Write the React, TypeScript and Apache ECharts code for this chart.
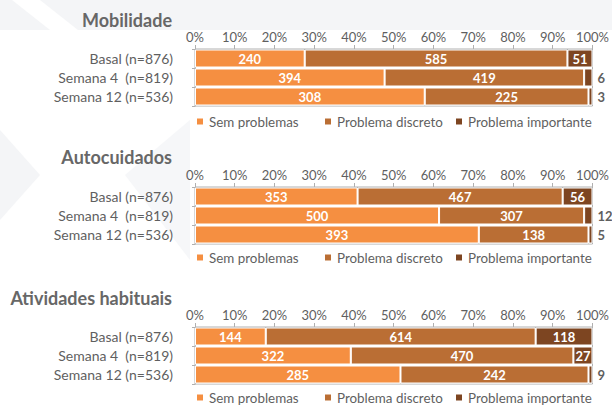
import React, { useEffect, useRef } from "react";
import * as echarts from "echarts";

const categories = ["Basal (n=876)", "Semana 4  (n=819)", "Semana 12 (n=536)"];
const seriesNames = ["Sem problemas", "Problema discreto", "Problema importante"];
const panelTitles = ["Mobilidade", "Autocuidados", "Atividades habituais"];
const xTicks = [0, 10, 20, 30, 40, 50, 60, 70, 80, 90, 100];

// counts shown as labels
const mobSem = [240, 394, 308];
const mobDisc = [585, 419, 225];
const mobImp = [51, 6, 3];
const autoSem = [353, 500, 393];
const autoDisc = [467, 307, 138];
const autoImp = [56, 12, 5];
const ativSem = [144, 322, 285];
const ativDisc = [614, 470, 242];
const ativImp = [118, 27, 9];

// bar lengths (%)
const mobSemPct = [27.6, 47.7, 57.8];
const mobDiscPct = [66.1, 50.2, 41.2];
const mobImpPct = [6.3, 2.1, 1.0];
const autoSemPct = [40.9, 61.4, 71.4];
const autoDiscPct = [51.6, 36.5, 27.6];
const autoImpPct = [7.5, 2.1, 1.0];
const ativSemPct = [17.8, 39.2, 51.7];
const ativDiscPct = [67.9, 56.0, 47.3];
const ativImpPct = [14.3, 4.8, 1.0];

const panelCounts = [
  [mobSem, mobDisc, mobImp],
  [autoSem, autoDisc, autoImp],
  [ativSem, ativDisc, ativImp],
];
const panelPcts = [
  [mobSemPct, mobDiscPct, mobImpPct],
  [autoSemPct, autoDiscPct, autoImpPct],
  [ativSemPct, ativDiscPct, ativImpPct],
];

const COLORS = ["#F58F41", "#BA6E34", "#7D4521"];
const TEXT = "#5f5f5f";
const AXIS = "#b0b0b0";
const FONT = "Lato";

const GRID_TOPS = [49, 187, 327];
const GRID_H = 57;
const GRID_LEFT = 195;
const GRID_W = 398;
const TITLE_Y = [20, 157, 298];
const LEGEND_Y = [122, 258, 398];
const LEGEND_X = [195, 323, 454];

export default function App() {
  const ref = useRef<HTMLDivElement>(null);
  useEffect(() => {
    if (!ref.current) return;
    const chart = echarts.init(ref.current, null, { renderer: "svg" });

    const grid: any[] = [];
    const xAxis: any[] = [];
    const yAxis: any[] = [];
    const series: any[] = [];
    const legend: any[] = [];
    const graphic: any[] = [
      { type: "rect", silent: true, z: -10, shape: { x: 0, y: 0, width: 612, height: 30 }, style: { fill: "#f4f5f7" } },
      { type: "polygon", silent: true, z: -9, shape: { points: [[12, 0], [40, 0], [78, 30], [50, 30]] }, style: { fill: "#ffffff" } },
      { type: "polygon", silent: true, z: -10, shape: { points: [[0, 130], [40, 175], [0, 220]] }, style: { fill: "#f4f5f7" } },
      { type: "polygon", silent: true, z: -10, shape: { points: [[190, 120], [125, 175], [190, 260]] }, style: { fill: "#f6f7f9" } },
    ];

    panelCounts.forEach((panel, p) => {
      grid.push({
        left: GRID_LEFT,
        top: GRID_TOPS[p],
        width: GRID_W,
        height: GRID_H,
        show: true,
        borderColor: AXIS,
        borderWidth: 1,
        backgroundColor: "transparent",
      });
      xAxis.push({
        type: "value",
        gridIndex: p,
        position: "top",
        min: xTicks[0],
        max: xTicks[xTicks.length - 1],
        interval: 10,
        axisLabel: { formatter: "{value}%", color: TEXT, fontSize: 13, fontFamily: FONT, margin: 6 },
        axisTick: { show: true, length: 4, lineStyle: { color: AXIS } },
        axisLine: { show: true, lineStyle: { color: AXIS } },
        splitLine: { show: false },
      });
      yAxis.push({
        type: "category",
        gridIndex: p,
        inverse: true,
        data: categories,
        axisLabel: { color: TEXT, fontSize: 14, fontFamily: FONT, margin: 22 },
        axisTick: { show: true, length: 3, lineStyle: { color: AXIS } },
        axisLine: { show: true, lineStyle: { color: AXIS } },
      });
      panel.forEach((counts, s) => {
        const pcts = panelPcts[p][s];
        series.push({
          type: "bar",
          name: seriesNames[s],
          xAxisIndex: p,
          yAxisIndex: p,
          stack: "panel" + p,
          barWidth: 18,
          itemStyle: { color: COLORS[s], borderColor: "#ffffff", borderWidth: 1 },
          label: {
            show: true,
            position: "inside",
            color: "#ffffff",
            fontWeight: "bold",
            fontSize: 13,
            fontFamily: FONT,
            formatter: (d: any) => String(d.data.count),
          },
          data: counts.map((c, i) => {
            const pct = pcts[i];
            const item: any = { value: pct, count: c };
            if (pct < 3) {
              item.label = { position: "right", distance: 5, color: TEXT };
            }
            return item;
          }),
        });
      });
      seriesNames.forEach((name, k) => {
        legend.push({
          data: [name],
          left: LEGEND_X[k],
          top: LEGEND_Y[p] - 7,
          padding: 0,
          icon: "rect",
          itemWidth: 8,
          itemHeight: 8,
          itemGap: 5,
          textStyle: { color: TEXT, fontSize: 13.4, fontFamily: FONT },
          selectedMode: false,
        });
      });
      graphic.push({
        type: "text",
        x: 172,
        y: TITLE_Y[p],
        style: {
          text: panelTitles[p],
          align: "right",
          verticalAlign: "middle",
          fontSize: 18,
          fontWeight: "bold",
          fontFamily: FONT,
          fill: "#676767",
        },
      });
    });

    chart.setOption({
      animation: false,
      backgroundColor: "#ffffff",
      textStyle: { fontFamily: FONT },
      grid,
      xAxis,
      yAxis,
      series,
      legend,
      graphic,
      tooltip: { show: false },
    });
    return () => chart.dispose();
  }, []);

  return <div ref={ref} style={{ width: 612, height: 406, position: "absolute", left: 0, top: 0 }} />;
}
